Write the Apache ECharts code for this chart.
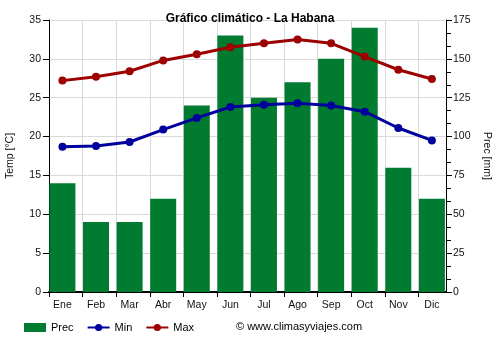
<!DOCTYPE html>
<html>
<head>
<meta charset="utf-8">
<script src="https://cdn.jsdelivr.net/npm/echarts@6/dist/echarts.min.js"></script>
<style>
  html, body { margin: 0; padding: 0; background: #fff; }
  #chart { width: 500px; height: 350px; }
</style>
</head>
<body>
<div id="chart"></div>
<script>
// Climate data for La Habana
const months = ['Ene', 'Feb', 'Mar', 'Abr', 'May', 'Jun', 'Jul', 'Ago', 'Sep', 'Oct', 'Nov', 'Dic'];
const precipitation = [70, 45, 45, 60, 120, 165, 125, 135, 150, 170, 80, 60];   // mm
const tempMin = [18.7, 18.8, 19.3, 20.9, 22.4, 23.8, 24.1, 24.3, 24.0, 23.2, 21.1, 19.5]; // °C
const tempMax = [27.2, 27.7, 28.4, 29.8, 30.6, 31.5, 32.0, 32.5, 32.0, 30.3, 28.6, 27.4]; // °C

// Months sit on a numeric x scale: month i is placed at i + monthOffset,
// so grid lines fall at whole numbers between the months.
const monthOffset = 0.4;
const xExtent = 11.82;

const toPoints = arr => arr.map((v, i) => [i + monthOffset, v]);

const FONT = 'Liberation Sans, Arial, sans-serif';
const GREEN = '#017b30';
const BLUE = '#00009c';
const RED = '#9c0000';

const chart = echarts.init(document.getElementById('chart'), null, { renderer: 'canvas' });

chart.setOption({
  animation: false,
  backgroundColor: '#fff',
  textStyle: { fontFamily: FONT },
  title: {
    text: 'Gráfico climático - La Habana',
    left: 'center',
    top: 8,
    textStyle: { fontFamily: FONT, fontSize: 12, fontWeight: 'bold', color: '#000' }
  },
  grid: { left: 49, right: 54, top: 20, bottom: 58, containLabel: false, outerBoundsMode: 'none' },
  legend: {
    left: 24,
    top: 322,
    padding: 0,
    itemWidth: 22,
    itemHeight: 9,
    itemGap: 13,
    textStyle: { fontFamily: FONT, fontSize: 11, color: '#000' },
    data: [
      { name: 'Prec', icon: 'rect' },
      { name: 'Min' },
      { name: 'Max' }
    ]
  },
  graphic: [{
    type: 'text',
    left: 236,
    top: 321,
    style: { text: '© www.climasyviajes.com', font: '11px ' + FONT, fill: '#000' }
  }],
  xAxis: {
    type: 'value',
    min: 0,
    max: xExtent,
    interval: 1,
    axisLine: { show: true, onZero: false, lineStyle: { color: '#000', width: 2 } },
    axisTick: { show: true, length: 5, lineStyle: { color: '#000' } },
    splitLine: { show: true, lineStyle: { color: '#d9d9d9', width: 1 } },
    axisLabel: {
      show: true,
      margin: 8,
      fontFamily: FONT,
      fontSize: 10.5,
      color: '#111',
      showMaxLabel: false,
      padding: [0, 0, 0, 2 * monthOffset * 33.58],
      formatter: v => (Number.isInteger(v) && v < months.length) ? months[v] : ''
    }
  },
  yAxis: [
    {
      type: 'value',
      name: 'Temp [°C]',
      nameLocation: 'middle',
      nameRotate: 90,
      nameGap: 33,
      nameTextStyle: { fontFamily: FONT, fontSize: 10.5, color: '#111' },
      min: 0,
      max: 35,
      interval: 5,
      axisLine: { show: true, lineStyle: { color: '#000', width: 1 } },
      axisTick: { show: true, length: 6, lineStyle: { color: '#000' } },
      splitLine: { show: true, lineStyle: { color: '#d9d9d9', width: 1 } },
      axisLabel: { fontFamily: FONT, fontSize: 10.5, color: '#111', margin: 8 }
    },
    {
      type: 'value',
      name: 'Prec [mm]',
      nameLocation: 'middle',
      nameRotate: -90,
      nameGap: 35,
      nameTextStyle: { fontFamily: FONT, fontSize: 10.5, color: '#111' },
      min: 0,
      max: 175,
      interval: 25,
      position: 'right',
      axisLine: { show: true, lineStyle: { color: '#000', width: 1 } },
      axisTick: { show: true, length: 6, lineStyle: { color: '#000' } },
      minorTick: { show: true, splitNumber: 3, length: 5, lineStyle: { color: '#000' } },
      splitLine: { show: false },
      axisLabel: { fontFamily: FONT, fontSize: 10.5, color: '#111', margin: 7 }
    }
  ],
  series: [
    {
      name: 'Prec',
      type: 'bar',
      yAxisIndex: 1,
      barWidth: 26,
      itemStyle: { color: GREEN },
      data: toPoints(precipitation),
      z: 2
    },
    {
      name: 'Min',
      type: 'line',
      yAxisIndex: 0,
      symbol: 'circle',
      symbolSize: 8,
      lineStyle: { color: BLUE, width: 3 },
      itemStyle: { color: BLUE },
      data: toPoints(tempMin),
      z: 3
    },
    {
      name: 'Max',
      type: 'line',
      yAxisIndex: 0,
      symbol: 'circle',
      symbolSize: 8,
      lineStyle: { color: RED, width: 3 },
      itemStyle: { color: RED },
      data: toPoints(tempMax),
      z: 3
    }
  ]
});
</script>
</body>
</html>
